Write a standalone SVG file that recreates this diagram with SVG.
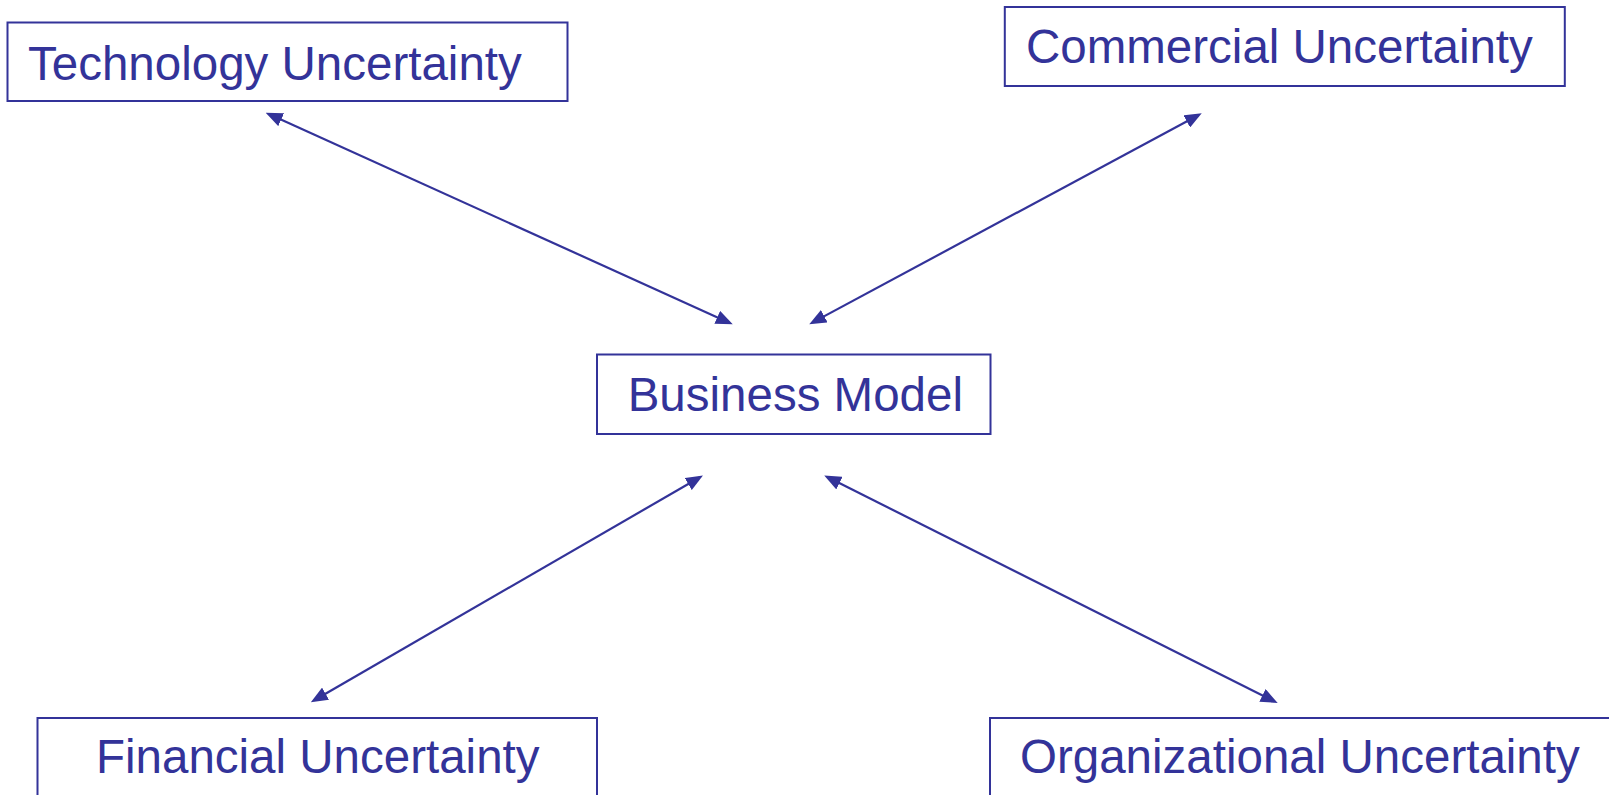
<svg xmlns="http://www.w3.org/2000/svg" width="1609" height="795" viewBox="0 0 1609 795">
<style>
.box{fill:#ffffff;stroke:#333399;stroke-width:2}
.lbl{font-family:"Liberation Sans",Arial,sans-serif;font-size:47.5px;fill:#333399}
.conn{stroke:#333399;stroke-width:2.2;fill:none;marker-start:url(#ah);marker-end:url(#ah)}
</style>
<defs>
<marker id="ah" markerUnits="userSpaceOnUse" markerWidth="17" markerHeight="14" viewBox="0 0 17 14" refX="13" refY="7" orient="auto-start-reverse">
<path d="M0,0 L17,7 L0,14 z" fill="#333399"/>
</marker>
</defs>
<rect width="1609" height="795" fill="#ffffff"/>
<g id="connectors">
<line class="conn" x1="269.3" y1="114.35" x2="729.1" y2="322.65"/>
<line class="conn" x1="1198.2" y1="115.2" x2="812.8" y2="322.4"/>
<line class="conn" x1="699.5" y1="477.5" x2="314.3" y2="700.2"/>
<line class="conn" x1="827.8" y1="477.3" x2="1274.1" y2="701.2"/>
</g>
<g id="node-technology">
<rect class="box" x="7.5" y="22.5" width="560" height="78.5"/>
<text class="lbl" x="28" y="80">Technology Uncertainty</text>
</g>
<g id="node-commercial">
<rect class="box" x="1004.8" y="7" width="560" height="79"/>
<text class="lbl" x="1026" y="63.3">Commercial Uncertainty</text>
</g>
<g id="node-business">
<rect class="box" x="597" y="354.5" width="393.5" height="79.5"/>
<text class="lbl" x="627.7" y="410.7">Business Model</text>
</g>
<g id="node-financial">
<rect class="box" x="37.5" y="718" width="559.5" height="90"/>
<text class="lbl" x="96" y="773.3">Financial Uncertainty</text>
</g>
<g id="node-organizational">
<rect class="box" x="990" y="718" width="640" height="90"/>
<text class="lbl" x="1020" y="773.3">Organizational Uncertainty</text>
</g>
</svg>
